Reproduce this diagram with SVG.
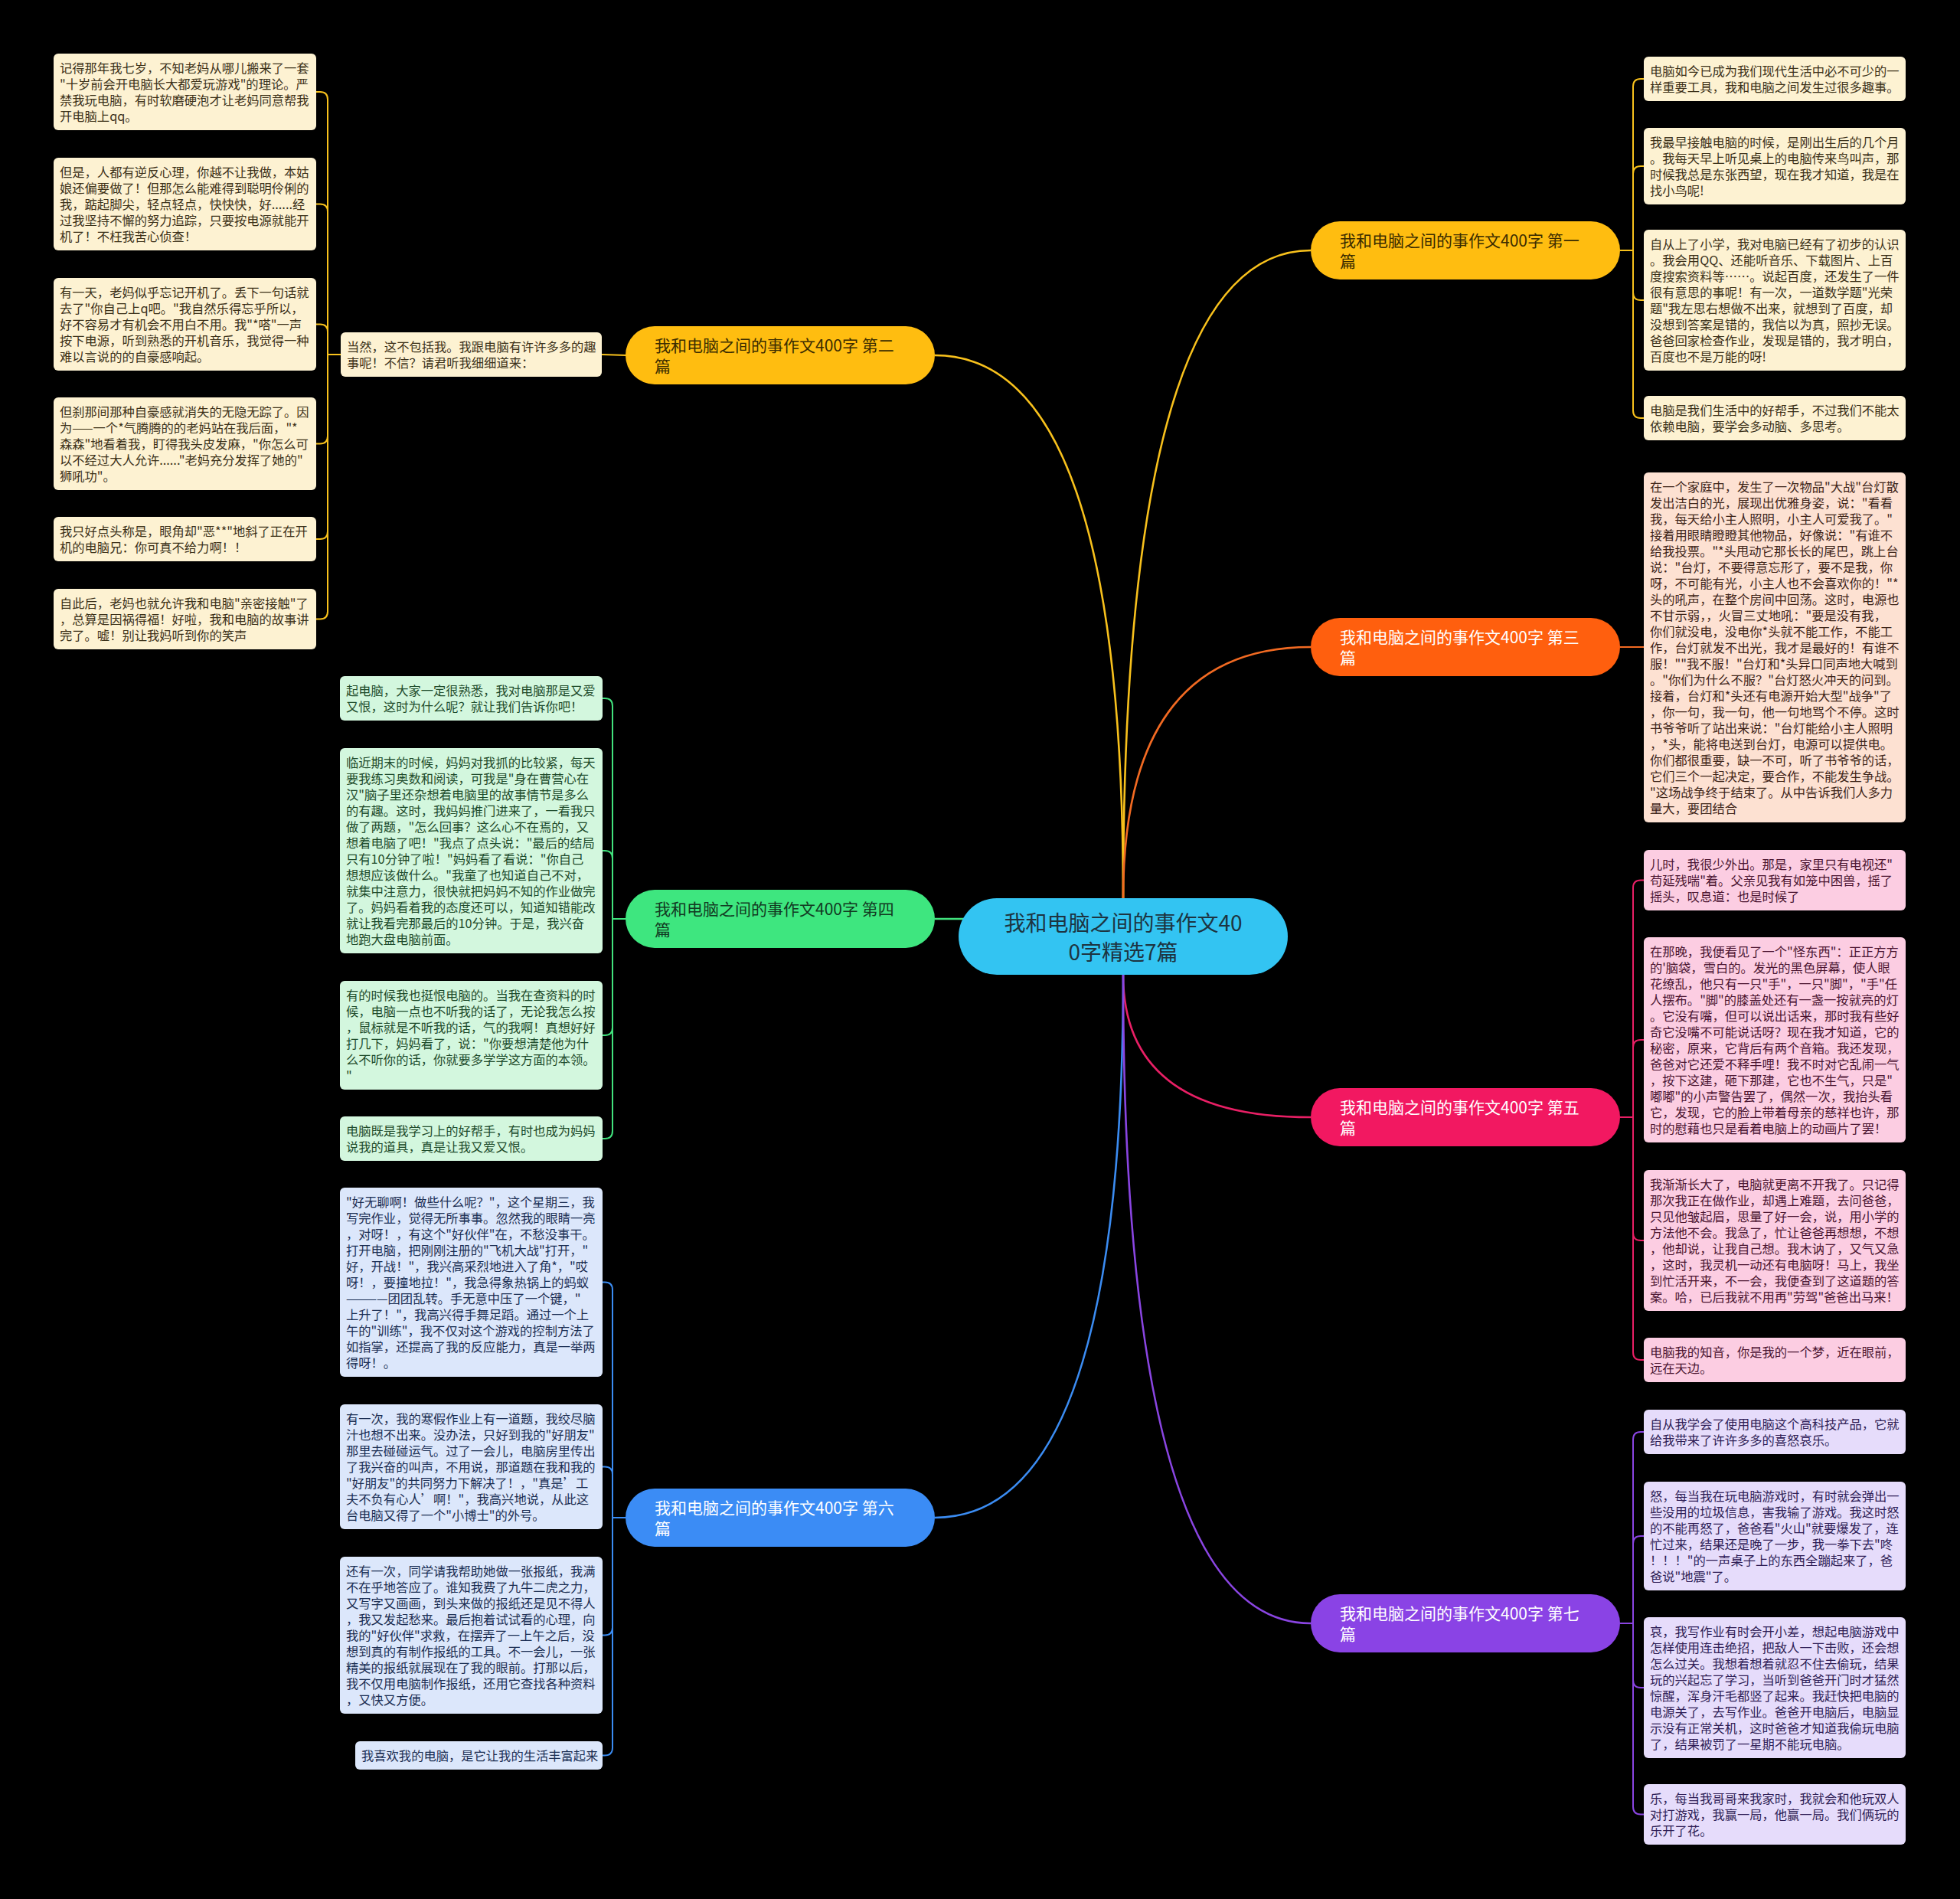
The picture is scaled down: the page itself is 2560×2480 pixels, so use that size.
<svg xmlns="http://www.w3.org/2000/svg" width="2560" height="2480" viewBox="0 0 2560 2480">
<style>
text{font-family:"Noto Sans CJK SC","Noto Sans CJK JP",sans-serif}
.leaf text{font-size:16.3px}
.bt{font-size:21px}
.ct{font-size:28px;fill:#1d3441}
#connectors path{fill:none;stroke-width:2}
#connectors .m{stroke-width:2.6}
.gold rect.lr{fill:#FDF2D2}.gold text{fill:#3b3018}
.orange rect.lr{fill:#FDE1D2}.orange text{fill:#3d2418}
.green rect.lr{fill:#D3F7DE}.green text{fill:#1d4a2a}
.pink rect.lr{fill:#FCCDE2}.pink text{fill:#4a1430}
.blue rect.lr{fill:#DCE7FB}.blue text{fill:#1a2d52}
.purple rect.lr{fill:#E6DCFB}.purple text{fill:#2e1d55}
.sg{stroke:#F8C11C}.so{stroke:#F26A22}.sgr{stroke:#41E27D}.sp{stroke:#E81F65}.sb{stroke:#3B8CF2}.su{stroke:#8A45E2}
</style>
<rect width="2560" height="2480" fill="#000"/>

<g id="connectors">
<path class="m sg" d="M 1467 1173 Q 1467 327 1712 327"/>
<path class="m sg" d="M 1467 1173 Q 1467 464 1221 464"/>
<path class="m so" d="M 1467 1173 Q 1467 845 1712 845"/>
<path class="m sgr" d="M 1300 1200 L 1221 1200"/>
<path class="m sp" d="M 1467 1273 Q 1467 1459 1712 1459"/>
<path class="m sb" d="M 1467 1273 Q 1467 1982 1221 1982"/>
<path class="m su" d="M 1467 1273 Q 1467 2120 1712 2120"/>

<path class="sg" d="M 818 464 L 786 463"/>
<path class="sg" d="M 445 463 H 428 V 130 Q 428 120 418 120 H 413"/>
<path class="sg" d="M 445 463 H 428 V 276.5 Q 428 266.5 418 266.5 H 413"/>
<path class="sg" d="M 445 463 H 428 V 433.5 Q 428 423.5 418 423.5 H 413"/>
<path class="sg" d="M 445 463 H 428 V 569.5 Q 428 579.5 418 579.5 H 413"/>
<path class="sg" d="M 445 463 H 428 V 694 Q 428 704 418 704 H 413"/>
<path class="sg" d="M 445 463 H 428 V 798.5 Q 428 808.5 418 808.5 H 413"/>

<path class="sgr" d="M 817 1200 H 800 V 922 Q 800 912 790 912 H 787"/>
<path class="sgr" d="M 817 1200 H 800 V 1121 Q 800 1111 790 1111 H 787"/>
<path class="sgr" d="M 817 1200 H 800 V 1342 Q 800 1352 790 1352 H 787"/>
<path class="sgr" d="M 817 1200 H 800 V 1477 Q 800 1487 790 1487 H 787"/>

<path class="sb" d="M 817 1982 H 800 V 1684.5 Q 800 1674.5 790 1674.5 H 787"/>
<path class="sb" d="M 817 1982 H 800 V 1925.5 Q 800 1915.5 790 1915.5 H 787"/>
<path class="sb" d="M 817 1982 H 800 V 2125.5 Q 800 2135.5 790 2135.5 H 787"/>
<path class="sb" d="M 817 1982 H 800 V 2282.5 Q 800 2292.5 790 2292.5 H 787"/>

<path class="sg" d="M 2116 327 H 2133 V 113 Q 2133 103 2143 103 H 2147"/>
<path class="sg" d="M 2116 327 H 2133 V 227 Q 2133 217 2143 217 H 2147"/>
<path class="sg" d="M 2116 327 H 2133 V 382 Q 2133 392 2143 392 H 2147"/>
<path class="sg" d="M 2116 327 H 2133 V 536 Q 2133 546 2143 546 H 2147"/>

<path class="so" d="M 2116 845 H 2147"/>

<path class="sp" d="M 2116 1459 H 2133 V 1159.5 Q 2133 1149.5 2143 1149.5 H 2147"/>
<path class="sp" d="M 2116 1459 H 2133 V 1368 Q 2133 1358 2143 1358 H 2147"/>
<path class="sp" d="M 2116 1459 H 2133 V 1610 Q 2133 1620 2143 1620 H 2147"/>
<path class="sp" d="M 2116 1459 H 2133 V 1766 Q 2133 1776 2143 1776 H 2147"/>

<path class="su" d="M 2116 2120 H 2133 V 1880 Q 2133 1870 2143 1870 H 2147"/>
<path class="su" d="M 2116 2120 H 2133 V 2016 Q 2133 2006 2143 2006 H 2147"/>
<path class="su" d="M 2116 2120 H 2133 V 2194 Q 2133 2204 2143 2204 H 2147"/>
<path class="su" d="M 2116 2120 H 2133 V 2359.5 Q 2133 2369.5 2143 2369.5 H 2147"/>
</g>

<g id="center">
<rect x="1252" y="1173" width="430" height="100" rx="50" fill="#33C4F2"/>
<text class="ct" text-anchor="middle"><tspan x="1467" y="1216">我和电脑之间的事作文40</tspan><tspan x="1467" y="1254">0字精选7篇</tspan></text>
</g>

<g id="b1">
<rect x="1712" y="289" width="404" height="76" rx="38" fill="#FFBD10"/>
<text class="bt" fill="#3b2c00"><tspan x="1750" y="322">我和电脑之间的事作文400字 第一</tspan><tspan x="1750" y="349">篇</tspan></text>
</g>
<g id="b2">
<rect x="817" y="426" width="404" height="76" rx="38" fill="#FFBD10"/>
<text class="bt" fill="#3b2c00"><tspan x="855" y="459">我和电脑之间的事作文400字 第二</tspan><tspan x="855" y="486">篇</tspan></text>
</g>
<g id="b3">
<rect x="1712" y="807" width="404" height="76" rx="38" fill="#FF5F0E"/>
<text class="bt" fill="#fff"><tspan x="1750" y="840">我和电脑之间的事作文400字 第三</tspan><tspan x="1750" y="867">篇</tspan></text>
</g>
<g id="b4">
<rect x="817" y="1162" width="404" height="76" rx="38" fill="#3EE67F"/>
<text class="bt" fill="#123a22"><tspan x="855" y="1195">我和电脑之间的事作文400字 第四</tspan><tspan x="855" y="1222">篇</tspan></text>
</g>
<g id="b5">
<rect x="1712" y="1421" width="404" height="76" rx="38" fill="#F21861"/>
<text class="bt" fill="#fff"><tspan x="1750" y="1454">我和电脑之间的事作文400字 第五</tspan><tspan x="1750" y="1481">篇</tspan></text>
</g>
<g id="b6">
<rect x="817" y="1944" width="404" height="76" rx="38" fill="#3B8CF5"/>
<text class="bt" fill="#fff"><tspan x="855" y="1977">我和电脑之间的事作文400字 第六</tspan><tspan x="855" y="2004">篇</tspan></text>
</g>
<g id="b7">
<rect x="1712" y="2082" width="404" height="76" rx="38" fill="#8A43E5"/>
<text class="bt" fill="#fff"><tspan x="1750" y="2115">我和电脑之间的事作文400字 第七</tspan><tspan x="1750" y="2142">篇</tspan></text>
</g>

<g class="leaf gold">
<g id="l0"><rect class="lr" x="445" y="434" width="341" height="58" rx="6"/><text><tspan x="453" y="459">当然，这不包括我。我跟电脑有许许多多的趣</tspan><tspan x="453" y="480">事呢！不信？请君听我细细道来：</tspan></text></g>
<g id="l1"><rect class="lr" x="70" y="70" width="343" height="100" rx="6"/><text><tspan x="78" y="95">记得那年我七岁，不知老妈从哪儿搬来了一套</tspan><tspan x="78" y="116">"十岁前会开电脑长大都爱玩游戏"的理论。严</tspan><tspan x="78" y="137">禁我玩电脑，有时软磨硬泡才让老妈同意帮我</tspan><tspan x="78" y="158">开电脑上qq。</tspan></text></g>
<g id="l2"><rect class="lr" x="70" y="206" width="343" height="121" rx="6"/><text><tspan x="78" y="231">但是，人都有逆反心理，你越不让我做，本姑</tspan><tspan x="78" y="252">娘还偏要做了！但那怎么能难得到聪明伶俐的</tspan><tspan x="78" y="273">我，踮起脚尖，轻点轻点，快快快，好......经</tspan><tspan x="78" y="294">过我坚持不懈的努力追踪，只要按电源就能开</tspan><tspan x="78" y="315">机了！不枉我苦心侦查！</tspan></text></g>
<g id="l3"><rect class="lr" x="70" y="363" width="343" height="121" rx="6"/><text><tspan x="78" y="388">有一天，老妈似乎忘记开机了。丢下一句话就</tspan><tspan x="78" y="409">去了"你自己上q吧。"我自然乐得忘乎所以，</tspan><tspan x="78" y="430">好不容易才有机会不用白不用。我"*嗒"一声</tspan><tspan x="78" y="451">按下电源，听到熟悉的开机音乐，我觉得一种</tspan><tspan x="78" y="472">难以言说的的自豪感响起。</tspan></text></g>
<g id="l4"><rect class="lr" x="70" y="519" width="343" height="121" rx="6"/><text><tspan x="78" y="544">但刹那间那种自豪感就消失的无隐无踪了。因</tspan><tspan x="78" y="565">为——一个*气腾腾的的老妈站在我后面，"*</tspan><tspan x="78" y="586">森森"地看着我，盯得我头皮发麻，"你怎么可</tspan><tspan x="78" y="607">以不经过大人允许......"老妈充分发挥了她的"</tspan><tspan x="78" y="628">狮吼功"。</tspan></text></g>
<g id="l5"><rect class="lr" x="70" y="675" width="343" height="58" rx="6"/><text><tspan x="78" y="700">我只好点头称是，眼角却"恶**"地斜了正在开</tspan><tspan x="78" y="721">机的电脑兄：你可真不给力啊！！</tspan></text></g>
<g id="l6"><rect class="lr" x="70" y="769" width="343" height="79" rx="6"/><text><tspan x="78" y="794">自此后，老妈也就允许我和电脑"亲密接触"了</tspan><tspan x="78" y="815">，总算是因祸得福！好啦，我和电脑的故事讲</tspan><tspan x="78" y="836">完了。嘘！别让我妈听到你的笑声</tspan></text></g>

<g id="y1"><rect class="lr" x="2147" y="74" width="342" height="58" rx="6"/><text><tspan x="2155" y="99">电脑如今已成为我们现代生活中必不可少的一</tspan><tspan x="2155" y="120">样重要工具，我和电脑之间发生过很多趣事。</tspan></text></g>
<g id="y2"><rect class="lr" x="2147" y="167" width="342" height="100" rx="6"/><text><tspan x="2155" y="192">我最早接触电脑的时候，是刚出生后的几个月</tspan><tspan x="2155" y="213">。我每天早上听见桌上的电脑传来鸟叫声，那</tspan><tspan x="2155" y="234">时候我总是东张西望，现在我才知道，我是在</tspan><tspan x="2155" y="255">找小鸟呢!</tspan></text></g>
<g id="y3"><rect class="lr" x="2147" y="300" width="342" height="184" rx="6"/><text><tspan x="2155" y="325">自从上了小学，我对电脑已经有了初步的认识</tspan><tspan x="2155" y="346">。我会用QQ、还能听音乐、下载图片、上百</tspan><tspan x="2155" y="367">度搜索资料等……。说起百度，还发生了一件</tspan><tspan x="2155" y="388">很有意思的事呢！有一次，一道数学题"光荣</tspan><tspan x="2155" y="409">题"我左思右想做不出来，就想到了百度，却</tspan><tspan x="2155" y="430">没想到答案是错的，我信以为真，照抄无误。</tspan><tspan x="2155" y="451">爸爸回家检查作业，发现是错的，我才明白，</tspan><tspan x="2155" y="472">百度也不是万能的呀!</tspan></text></g>
<g id="y4"><rect class="lr" x="2147" y="517" width="342" height="58" rx="6"/><text><tspan x="2155" y="542">电脑是我们生活中的好帮手，不过我们不能太</tspan><tspan x="2155" y="563">依赖电脑，要学会多动脑、多思考。</tspan></text></g>
</g>

<g class="leaf orange">
<g id="o1"><rect class="lr" x="2147" y="617" width="342" height="457" rx="6"/><text><tspan x="2155" y="642">在一个家庭中，发生了一次物品"大战"台灯散</tspan><tspan x="2155" y="663">发出洁白的光，展现出优雅身姿，说："看看</tspan><tspan x="2155" y="684">我，每天给小主人照明，小主人可爱我了。"</tspan><tspan x="2155" y="705">接着用眼睛瞪瞪其他物品，好像说："有谁不</tspan><tspan x="2155" y="726">给我投票。"*头甩动它那长长的尾巴，跳上台</tspan><tspan x="2155" y="747">说："台灯，不要得意忘形了，要不是我，你</tspan><tspan x="2155" y="768">呀，不可能有光，小主人也不会喜欢你的！"*</tspan><tspan x="2155" y="789">头的吼声，在整个房间中回荡。这时，电源也</tspan><tspan x="2155" y="810">不甘示弱，，火冒三丈地吼："要是没有我，</tspan><tspan x="2155" y="831">你们就没电，没电你*头就不能工作，不能工</tspan><tspan x="2155" y="852">作，台灯就发不出光，我才是最好的！有谁不</tspan><tspan x="2155" y="873">服！""我不服！"台灯和*头异口同声地大喊到</tspan><tspan x="2155" y="894">。"你们为什么不服？"台灯怒火冲天的问到。</tspan><tspan x="2155" y="915">接着，台灯和*头还有电源开始大型"战争"了</tspan><tspan x="2155" y="936">，你一句，我一句，他一句地骂个不停。这时</tspan><tspan x="2155" y="957">书爷爷听了站出来说："台灯能给小主人照明</tspan><tspan x="2155" y="978">，*头，能将电送到台灯，电源可以提供电。</tspan><tspan x="2155" y="999">你们都很重要，缺一不可，听了书爷爷的话，</tspan><tspan x="2155" y="1020">它们三个一起决定，要合作，不能发生争战。</tspan><tspan x="2155" y="1041">"这场战争终于结束了。从中告诉我们人多力</tspan><tspan x="2155" y="1062">量大，要团结合</tspan></text></g>
</g>

<g class="leaf green">
<g id="g1"><rect class="lr" x="444" y="883" width="343" height="58" rx="6"/><text><tspan x="452" y="908">起电脑，大家一定很熟悉，我对电脑那是又爱</tspan><tspan x="452" y="929">又恨，这时为什么呢？就让我们告诉你吧！</tspan></text></g>
<g id="g2"><rect class="lr" x="444" y="977" width="343" height="268" rx="6"/><text><tspan x="452" y="1002">临近期末的时候，妈妈对我抓的比较紧，每天</tspan><tspan x="452" y="1023">要我练习奥数和阅读，可我是"身在曹营心在</tspan><tspan x="452" y="1044">汉"脑子里还杂想着电脑里的故事情节是多么</tspan><tspan x="452" y="1065">的有趣。这时，我妈妈推门进来了，一看我只</tspan><tspan x="452" y="1086">做了两题，"怎么回事？这么心不在焉的，又</tspan><tspan x="452" y="1107">想着电脑了吧！"我点了点头说："最后的结局</tspan><tspan x="452" y="1128">只有10分钟了啦！"妈妈看了看说："你自己</tspan><tspan x="452" y="1149">想想应该做什么。"我童了也知道自己不对，</tspan><tspan x="452" y="1170">就集中注意力，很快就把妈妈不知的作业做完</tspan><tspan x="452" y="1191">了。妈妈看着我的态度还可以，知道知错能改</tspan><tspan x="452" y="1212">就让我看完那最后的10分钟。于是，我兴奋</tspan><tspan x="452" y="1233">地跑大盘电脑前面。</tspan></text></g>
<g id="g3"><rect class="lr" x="444" y="1281" width="343" height="142" rx="6"/><text><tspan x="452" y="1306">有的时候我也挺恨电脑的。当我在查资料的时</tspan><tspan x="452" y="1327">候，电脑一点也不听我的话了，无论我怎么按</tspan><tspan x="452" y="1348">，鼠标就是不听我的话，气的我啊！真想好好</tspan><tspan x="452" y="1369">打几下，妈妈看了，说："你要想清楚他为什</tspan><tspan x="452" y="1390">么不听你的话，你就要多学学这方面的本领。</tspan><tspan x="452" y="1411">"</tspan></text></g>
<g id="g4"><rect class="lr" x="444" y="1458" width="343" height="58" rx="6"/><text><tspan x="452" y="1483">电脑既是我学习上的好帮手，有时也成为妈妈</tspan><tspan x="452" y="1504">说我的道具，真是让我又爱又恨。</tspan></text></g>
</g>

<g class="leaf blue">
<g id="u1"><rect class="lr" x="444" y="1551" width="343" height="247" rx="6"/><text><tspan x="452" y="1576">"好无聊啊！做些什么呢？"，这个星期三，我</tspan><tspan x="452" y="1597">写完作业，觉得无所事事。忽然我的眼睛一亮</tspan><tspan x="452" y="1618">，对呀！，有这个"好伙伴"在，不愁没事干。</tspan><tspan x="452" y="1639">打开电脑，把刚刚注册的"飞机大战"打开，"</tspan><tspan x="452" y="1660">好，开战！"，我兴高采烈地进入了角*，"哎</tspan><tspan x="452" y="1681">呀！，要撞地拉！"，我急得象热锅上的蚂蚁</tspan><tspan x="452" y="1702">————团团乱转。手无意中压了一个键，"</tspan><tspan x="452" y="1723">上升了！"，我高兴得手舞足蹈。通过一个上</tspan><tspan x="452" y="1744">午的"训练"，我不仅对这个游戏的控制方法了</tspan><tspan x="452" y="1765">如指掌，还提高了我的反应能力，真是一举两</tspan><tspan x="452" y="1786">得呀！。</tspan></text></g>
<g id="u2"><rect class="lr" x="444" y="1834" width="343" height="163" rx="6"/><text><tspan x="452" y="1859">有一次，我的寒假作业上有一道题，我绞尽脑</tspan><tspan x="452" y="1880">汁也想不出来。没办法，只好到我的"好朋友"</tspan><tspan x="452" y="1901">那里去碰碰运气。过了一会儿，电脑房里传出</tspan><tspan x="452" y="1922">了我兴奋的叫声，不用说，那道题在我和我的</tspan><tspan x="452" y="1943">"好朋友"的共同努力下解决了！，"真是’工</tspan><tspan x="452" y="1964">夫不负有心人’啊！"，我高兴地说，从此这</tspan><tspan x="452" y="1985">台电脑又得了一个"小博士"的外号。</tspan></text></g>
<g id="u3"><rect class="lr" x="444" y="2033" width="343" height="205" rx="6"/><text><tspan x="452" y="2058">还有一次，同学请我帮助她做一张报纸，我满</tspan><tspan x="452" y="2079">不在乎地答应了。谁知我费了九牛二虎之力，</tspan><tspan x="452" y="2100">又写字又画画，到头来做的报纸还是见不得人</tspan><tspan x="452" y="2121">，我又发起愁来。最后抱着试试看的心理，向</tspan><tspan x="452" y="2142">我的"好伙伴"求救，在摆弄了一上午之后，没</tspan><tspan x="452" y="2163">想到真的有制作报纸的工具。不一会儿，一张</tspan><tspan x="452" y="2184">精美的报纸就展现在了我的眼前。打那以后，</tspan><tspan x="452" y="2205">我不仅用电脑制作报纸，还用它查找各种资料</tspan><tspan x="452" y="2226">，又快又方便。</tspan></text></g>
<g id="u4"><rect class="lr" x="464" y="2274" width="323" height="37" rx="6"/><text><tspan x="472" y="2299">我喜欢我的电脑，是它让我的生活丰富起来</tspan></text></g>
</g>

<g class="leaf pink">
<g id="p1"><rect class="lr" x="2147" y="1110" width="342" height="79" rx="6"/><text><tspan x="2155" y="1135">儿时，我很少外出。那是，家里只有电视还"</tspan><tspan x="2155" y="1156">苟延残喘"着。父亲见我有如笼中困兽，摇了</tspan><tspan x="2155" y="1177">摇头，叹息道：也是时候了</tspan></text></g>
<g id="p2"><rect class="lr" x="2147" y="1224" width="342" height="268" rx="6"/><text><tspan x="2155" y="1249">在那晚，我便看见了一个"怪东西"：正正方方</tspan><tspan x="2155" y="1270">的'脑袋，雪白的。发光的黑色屏幕，使人眼</tspan><tspan x="2155" y="1291">花缭乱，他只有一只"手"，一只"脚"，"手"任</tspan><tspan x="2155" y="1312">人摆布。"脚"的膝盖处还有一盏一按就亮的灯</tspan><tspan x="2155" y="1333">。它没有嘴，但可以说出话来，那时我有些好</tspan><tspan x="2155" y="1354">奇它没嘴不可能说话呀？现在我才知道，它的</tspan><tspan x="2155" y="1375">秘密，原来，它背后有两个音箱。我还发现，</tspan><tspan x="2155" y="1396">爸爸对它还爱不释手哩！我不时对它乱闹一气</tspan><tspan x="2155" y="1417">，按下这建，砸下那建，它也不生气，只是"</tspan><tspan x="2155" y="1438">嘟嘟"的小声警告罢了，偶然一次，我抬头看</tspan><tspan x="2155" y="1459">它，发现，它的脸上带着母亲的慈祥也许，那</tspan><tspan x="2155" y="1480">时的慰藉也只是看着电脑上的动画片了罢！</tspan></text></g>
<g id="p3"><rect class="lr" x="2147" y="1528" width="342" height="184" rx="6"/><text><tspan x="2155" y="1553">我渐渐长大了，电脑就更离不开我了。只记得</tspan><tspan x="2155" y="1574">那次我正在做作业，却遇上难题，去问爸爸，</tspan><tspan x="2155" y="1595">只见他皱起眉，思量了好一会，说，用小学的</tspan><tspan x="2155" y="1616">方法他不会。我急了，忙让爸爸再想想，不想</tspan><tspan x="2155" y="1637">，他却说，让我自己想。我木讷了，又气又急</tspan><tspan x="2155" y="1658">，这时，我灵机一动还有电脑呀！马上，我坐</tspan><tspan x="2155" y="1679">到忙活开来，不一会，我便查到了这道题的答</tspan><tspan x="2155" y="1700">案。哈，已后我就不用再"劳驾"爸爸出马来！</tspan></text></g>
<g id="p4"><rect class="lr" x="2147" y="1747" width="342" height="58" rx="6"/><text><tspan x="2155" y="1772">电脑我的知音，你是我的一个梦，近在眼前，</tspan><tspan x="2155" y="1793">远在天边。</tspan></text></g>
</g>

<g class="leaf purple">
<g id="v1"><rect class="lr" x="2147" y="1841" width="342" height="58" rx="6"/><text><tspan x="2155" y="1866">自从我学会了使用电脑这个高科技产品，它就</tspan><tspan x="2155" y="1887">给我带来了许许多多的喜怒哀乐。</tspan></text></g>
<g id="v2"><rect class="lr" x="2147" y="1935" width="342" height="142" rx="6"/><text><tspan x="2155" y="1960">怒，每当我在玩电脑游戏时，有时就会弹出一</tspan><tspan x="2155" y="1981">些没用的垃圾信息，害我输了游戏。我这时怒</tspan><tspan x="2155" y="2002">的不能再怒了，爸爸看"火山"就要爆发了，连</tspan><tspan x="2155" y="2023">忙过来，结果还是晚了一步，我一拳下去"咚</tspan><tspan x="2155" y="2044">！！！"的一声桌子上的东西全蹦起来了，爸</tspan><tspan x="2155" y="2065">爸说"地震"了。</tspan></text></g>
<g id="v3"><rect class="lr" x="2147" y="2112" width="342" height="184" rx="6"/><text><tspan x="2155" y="2137">哀，我写作业有时会开小差，想起电脑游戏中</tspan><tspan x="2155" y="2158">怎样使用连击绝招，把敌人一下击败，还会想</tspan><tspan x="2155" y="2179">怎么过关。我想着想着就忍不住去偷玩，结果</tspan><tspan x="2155" y="2200">玩的兴起忘了学习，当听到爸爸开门时才猛然</tspan><tspan x="2155" y="2221">惊醒，浑身汗毛都竖了起来。我赶快把电脑的</tspan><tspan x="2155" y="2242">电源关了，去写作业。爸爸开电脑后，电脑显</tspan><tspan x="2155" y="2263">示没有正常关机，这时爸爸才知道我偷玩电脑</tspan><tspan x="2155" y="2284">了，结果被罚了一星期不能玩电脑。</tspan></text></g>
<g id="v4"><rect class="lr" x="2147" y="2330" width="342" height="79" rx="6"/><text><tspan x="2155" y="2355">乐，每当我哥哥来我家时，我就会和他玩双人</tspan><tspan x="2155" y="2376">对打游戏，我赢一局，他赢一局。我们俩玩的</tspan><tspan x="2155" y="2397">乐开了花。</tspan></text></g>
</g>
</svg>
